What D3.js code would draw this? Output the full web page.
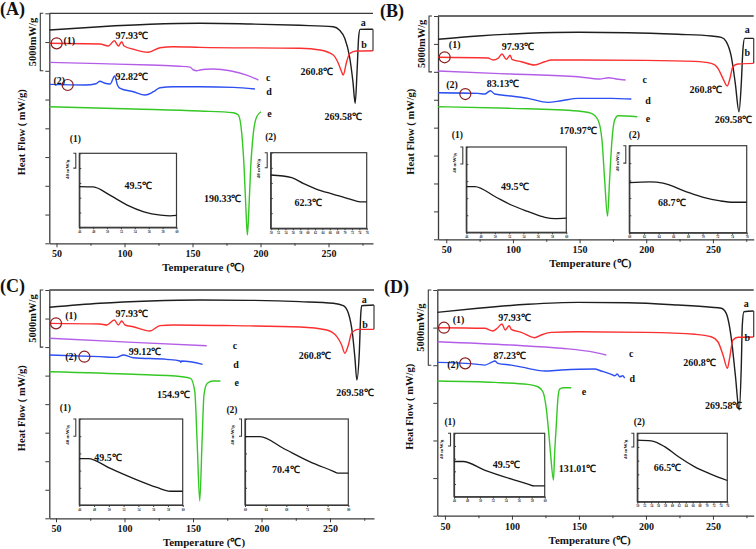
<!DOCTYPE html>
<html><head><meta charset="utf-8">
<script src="https://cdn.jsdelivr.net/npm/d3@7"></script>
<style>
body{margin:0;background:#fff}
svg{display:block}
text{font-family:"Liberation Serif","Times New Roman",serif;font-weight:bold;fill:#111}
</style>
</head><body>
<svg id="chart" width="756" height="549"></svg>
<script>
// ---------- DATA (temperature °C, heat flow mW/g) ----------
const xTickLabels = [50, 100, 150, 200, 250];
const curveNames = ["a", "b", "c", "d", "e"];

// Panel A
const A_a = [[44.8,-1450],[82,-1165],[118.8,-957],[155.5,-870],[192.3,-930],[229,-1045],[253.5,-1165],[258,-1450],[262,-2200],[265.5,-3800],[268,-6000],[269.58,-7830],[271,-5000],[272.2,-2000],[273.2,-1400],[282.6,-1390]];
const A_b = [[44.8,-2610],[82,-2670],[88.1,-2845],[92.6,-2385],[95.5,-2845],[97.93,-2470],[99.7,-2845],[106.5,-3130],[117.5,-3390],[126.1,-2990],[135.9,-2905],[155.5,-2960],[229,-3045],[243.7,-3190],[253.5,-3630],[257.2,-4350],[259.6,-5080],[260.8,-5370],[263.3,-4210],[265.7,-3480],[270.6,-3280],[282.6,-3250]];
const A_c = [[44.8,-4265],[82,-4380],[118.8,-4500],[140,-4600],[148.2,-4680],[150.7,-4930],[153.1,-4995],[155.5,-4930],[160,-4860],[165.3,-4845],[177.6,-4995],[189.8,-5370],[198.4,-5800]];
const A_d = [[44.8,-6180],[71.2,-6235],[79,-6130],[82,-5915],[85,-6060],[89.4,-6150],[92.82,-5455],[94.8,-6235],[96.8,-6525],[106.5,-6820],[115.1,-7110],[121.3,-6820],[126.1,-6470],[135.9,-6385],[155.5,-6385],[180,-6440],[195.9,-6585]];
const A_e = [[44.8,-8125],[106.5,-8325],[155.5,-8500],[180,-8650],[183.7,-8850],[186.2,-10440],[187.9,-13345],[189.4,-17400],[190.33,-19290],[191.3,-17400],[192.8,-13345],[194.7,-10440],[197.2,-9000],[200.4,-8560]];
const A_notes = [["97.93℃",105.3,-1890],["92.82℃",105.3,-5455],["260.8℃",241.3,-5080],["269.58℃",260.9,-8990],["190.33℃",172.2,-16090]];
const A_tags = [["a",275.6,-815],["b",276.1,-2755],["c",205.7,-5565],["d",206.3,-6820],["e",206.5,-8755],["(1)",59.4,-2385],["(2)",52.1,-5885]];
const A_circles = [[50.1,-2610],[58.2,-6235]];
const A_in1 = [[46,-90],[48,-91],[50.4,-113],[52.9,-140],[55.3,-158],[57.7,-167],[59.1,-169],[60,-168]];
const A_in2 = [[50,-59],[55.7,-66],[58.8,-81],[62.5,-97],[67,-110],[71.5,-123],[74.2,-130],[76,-130]];

// Panel B
const B_a = [[43.9,-2090],[73.8,-1790],[111.3,-1550],[148.8,-1460],[186.3,-1495],[223.8,-1640],[248.8,-1790],[256.3,-1910],[260,-2300],[263.8,-3645],[266.8,-6030],[269.58,-8575],[271.3,-6030],[272.5,-3045],[273.8,-2000],[280.5,-2000]];
const B_b = [[43.9,-3700],[81.3,-3760],[85,-3940],[88.8,-3790],[91.8,-3405],[95,-3880],[97.93,-3520],[99.3,-3880],[106.3,-4095],[116.3,-4390],[123.8,-4095],[128.8,-3940],[148.8,-3940],[198.8,-3970],[236.3,-4060],[248.8,-4240],[253.8,-4685],[257.5,-5580],[260.8,-6270],[262.5,-5735],[265,-4540],[268.8,-4300],[280.5,-4240]];
const B_c = [[43.9,-4930],[98.8,-5200],[148.8,-5440],[165,-5645],[171.8,-5525],[177.6,-5645],[184.5,-5735]];
const B_d = [[43.9,-6870],[73.8,-6930],[78.8,-6990],[83.13,-6690],[86.3,-6990],[98.8,-7170],[111.3,-7375],[126.3,-7735],[136.3,-7585],[148.8,-7375],[173.8,-7375],[188.8,-7435]];
const B_e = [[43.9,-8125],[98.8,-8270],[148.8,-8510],[158.8,-8720],[163.8,-9320],[166.8,-11110],[168.8,-14690],[170.97,-17920],[172.5,-14690],[174.3,-11110],[176.3,-9320],[178.8,-8930],[193.3,-9020]];
const B_notes = [["97.93℃",103.8,-2690],["83.13℃",92.5,-6030],["260.8℃",244.6,-6570],["269.58℃",265.5,-9230],["170.97℃",148.8,-10300]];
const B_tags = [["a",275.8,-1190],["b",275.8,-3290],["c",198.8,-5645],["d",201.3,-7525],["e",201.3,-9165],["(1)",56.3,-2535],["(2)",54.3,-6120]];
const B_circles = [[48.8,-3700],[64.3,-6990]];
const B_in1 = [[46,-93],[47.2,-93],[50,-116],[52.3,-136],[54.6,-151],[57,-165],[58.4,-168],[60,-167]];
const B_in2 = [[60,-85],[62.8,-83],[64.6,-86],[67.8,-106],[70.1,-119],[72.4,-127],[74.2,-130],[76,-130]];

// Panel C
const C_a = [[45.2,-1515],[82.1,-1165],[118.6,-965],[155.1,-875],[191.6,-905],[228.1,-1020],[252.4,-1165],[259.7,-1375],[263.4,-2045],[266.5,-3940],[268.2,-5985],[269.58,-7885],[271.4,-5400],[272.4,-2190],[273.1,-1375],[282,-1315]];
const C_b = [[45.2,-2920],[82.1,-2980],[87,-3065],[92.6,-2630],[95.5,-3065],[97.93,-2715],[100.4,-3065],[106.4,-3215],[118.6,-3590],[125.9,-3125],[135.6,-3065],[179.4,-3125],[228.1,-3240],[247.6,-3505],[255,-4090],[258.5,-4820],[260.8,-5545],[263.4,-4820],[265.7,-3795],[270.6,-3445],[282,-3445]];
const C_c = [[45.2,-4230],[106.4,-4585],[160,-4880]];
const C_d = [[45.2,-5695],[82.1,-5840],[94.3,-5900],[99.12,-5695],[106.4,-5930],[130.8,-6075],[140.5,-6220],[141.1,-6335],[141.7,-6220],[157,-6510]];
const C_e = [[45.2,-7155],[106.4,-7385],[142,-7595],[148.2,-7735],[151.3,-8910],[153,-13290],[154.9,-18485],[156.6,-13290],[158,-9200],[160.4,-8175],[164.8,-7970],[170,-7970]];
const C_notes = [["97.93℃",105.2,-2040],["99.12℃",115,-5345],["260.8℃",239,-5780],["269.58℃",268.2,-8960],["154.9℃",135.6,-9140]];
const C_tags = [["a",275,-790],["b",275.5,-3005],["c",180.7,-4880],["d",181.4,-6510],["e",181.9,-8085],["(1)",61,-2250],["(2)",61,-5845]];
const C_circles = [[50,-2920],[70.7,-5845]];
const C_in1 = [[46,-92],[47.2,-92],[50.2,-115],[53.3,-138],[56.5,-159],[58.3,-168],[60,-168]];
const C_in2 = [[60,-41],[62.9,-41],[67.4,-68],[72.5,-99],[77,-121],[78,-126],[80,-126]];

// Panel D
const D_a = [[44.4,-1485],[74.6,-1215],[111.9,-950],[149.3,-820],[186.6,-845],[223.9,-1000],[248.7,-1150],[256.2,-1215],[259.9,-1550],[263.7,-3210],[266.7,-5650],[269.58,-7980],[271.1,-5205],[271.9,-2330],[273.1,-1445],[280.3,-1395]];
const D_b = [[44.4,-2505],[79.6,-2545],[85.8,-2725],[89,-2545],[92.5,-2260],[95,-2660],[97.93,-2375],[99.5,-2615],[107,-2815],[116.9,-3170],[121.9,-2990],[129.3,-2815],[149.3,-2775],[199.6,-2815],[236.9,-2945],[248.7,-3105],[253.7,-3440],[257.5,-4320],[260.8,-5205],[262.4,-4540],[264.9,-3325],[268.7,-3145],[280.3,-3125]];
const D_c = [[44.4,-3440],[99.5,-3660],[136.8,-3875],[161.7,-4145],[170.4,-4320]];
const D_d = [[44.4,-4810],[74.6,-4940],[79.6,-4990],[84.6,-4810],[87.23,-4720],[89.6,-4875],[99.5,-4990],[111.9,-5205],[124.4,-5385],[136.8,-5320],[161.7,-5255],[166.6,-5385],[174.1,-5605],[176.6,-5700],[178.6,-5585],[180.4,-5765],[182.8,-5700],[184.1,-5870]];
const D_e = [[44.4,-6050],[87.1,-6140],[111.9,-6270],[119.4,-6430],[123.1,-6765],[125.6,-7865],[127.4,-9425],[128.9,-10975],[131.01,-12635],[131.8,-10975],[133.1,-8980],[134.3,-7200],[135.6,-6585],[138.1,-6495],[144.3,-6495]];
const D_notes = [["97.93℃",102,-1840],["87.23℃",98.4,-4370],["260.8℃",240,-4810],["269.58℃",258,-7695],["131.01℃",149,-11855]];
const D_tags = [["a",274.9,-885],["b",275.6,-3170],["c",189,-4210],["d",189.8,-5870],["e",153.7,-6715],["(1)",60.2,-1950],["(2)",56,-4940]];
const D_circles = [[49.3,-2505],[65.1,-4875]];
const D_in1 = [[46,-89],[47.4,-89],[50.7,-116],[54.8,-144],[57.4,-160],[58.4,-166],[60,-166]];
const D_in2 = [[50,-20],[54,-22],[57.9,-39],[61.8,-68],[66.6,-98],[71.4,-120],[76,-138]];

// inset tick labels
const inTicks1 = [46,48,50,52,54,56,58,60];
const inTicks2 = [50,52,54,56,58,60,62,64,66,68,70,72,74,76];
const inTicksB2 = [60,62,64,66,68,70,72,74,76];
const inTicksC2 = [60,64,68,72,76,80];

const colors = {a:"#1e1e1e", b:"#fb2f2f", c:"#b45ee8", d:"#2d4ff0", e:"#35c825"};

// ---------- LAYOUT ----------
const panels = [
 {letter:"(A)", letterPos:[0,15], box:[49.3,13.3,373,243.3], xDom:[44.7,282.7], yDom:[-20000,0],
  curves:{a:A_a,b:A_b,c:A_c,d:A_d,e:A_e}, notes:A_notes, tags:A_tags, circles:A_circles,
  insets:[
   {box:[79.3,153.3,176.5,227.3], xDom:[46,60], data:A_in1, ticks:inTicks1, note:["49.5℃",54.5,-86], tag:"(1)", tagOff:[-4,-15]},
   {box:[270.7,152.7,366.7,228.3], xDom:[50,76], data:A_in2, ticks:inTicks2, note:["62.3℃",60.2,-132], tag:"(2)", tagOff:[0,-16]}]},
 {letter:"(B)", letterPos:[380,17], box:[438,16,753.7,239.3], xDom:[43.8,280.6], yDom:[-20000,0],
  curves:{a:B_a,b:B_b,c:B_c,d:B_d,e:B_e}, notes:B_notes, tags:B_tags, circles:B_circles,
  insets:[
   {box:[466.3,147,566.3,232.3], xDom:[46,60], data:B_in1, ticks:inTicks1, note:["49.5℃",52.8,-93], tag:"(1)", tagOff:[-9,-12]},
   {box:[629.3,145.7,746.7,232.7], xDom:[60,76], data:B_in2, ticks:inTicksB2, note:["68.7℃",65.8,-131], tag:"(2)", tagOff:[5,-11]}]},
 {letter:"(C)", letterPos:[0,292], box:[49.3,290,374,518.3], xDom:[45.1,282.1], yDom:[-20000,0],
  curves:{a:C_a,b:C_b,c:C_c,d:C_d,e:C_e}, notes:C_notes, tags:C_tags, circles:C_circles,
  insets:[
   {box:[79.3,419,182.7,505], xDom:[46,60], data:C_in1, ticks:inTicks1, note:["49.5℃",49.9,-90], tag:"(1)", tagOff:[-14,-11]},
   {box:[245,419,348.3,505], xDom:[60,80], data:C_in2, ticks:inTicksC2, note:["70.4℃",67.9,-117], tag:"(2)", tagOff:[-13,-9]}]},
 {letter:"(D)", letterPos:[384,293], box:[437.3,290,753.7,515.7], xDom:[44.3,280.4], yDom:[-15000,0],
  curves:{a:D_a,b:D_b,c:D_c,d:D_d,e:D_e}, notes:D_notes, tags:D_tags, circles:D_circles,
  insets:[
   {box:[454,433.3,544.7,496.7], xDom:[46,60], data:D_in1, ticks:inTicks1, note:["49.5℃",54.1,-98], tag:"(1)", tagOff:[-4,-12]},
   {box:[637.3,433.3,727.3,501.7], xDom:[50,76], data:D_in2, ticks:inTicks2, note:["66.5℃",58.7,-100], tag:"(2)", tagOff:[2,-12]}]}
];

const svg = d3.select("#chart");
const AX = "#3a3a3a";

function styleAxis(sel, fs){
  sel.attr("font-family", null).attr("font-size", null);
  sel.selectAll("path.domain").attr("stroke", AX).attr("stroke-width", 1.3);
  sel.selectAll(".tick line").attr("stroke", AX).attr("stroke-width", 1);
  sel.selectAll(".tick text").style("font-size", fs + "px").attr("fill", "#111");
}

panels.forEach(p => {
  const [L, T, R, B] = p.box;
  const x = d3.scaleLinear().domain(p.xDom).range([L, R]);
  const y = d3.scaleLinear().domain(p.yDom).range([B, T]);
  const g = svg.append("g");

  // top border
  g.append("line").attr("x1", L).attr("x2", R).attr("y1", T).attr("y2", T)
    .attr("stroke", AX).attr("stroke-width", 1.3);

  // x axis
  const xt = d3.range(50, p.xDom[1], 25);
  const xa = g.append("g").attr("transform", `translate(0,${B})`)
    .call(d3.axisBottom(x).tickValues(xt).tickSize(4).tickSizeOuter(0).tickPadding(3)
      .tickFormat(d => xTickLabels.includes(d) ? d : ""));
  styleAxis(xa, 10);
  xa.selectAll(".tick").filter(d => !xTickLabels.includes(d)).select("line").attr("y2", 2.5);

  // y axis
  const yt = d3.range(p.yDom[0], p.yDom[1] + 1, 2500);
  const ya = g.append("g").attr("transform", `translate(${L},0)`)
    .call(d3.axisLeft(y).tickValues(yt).tickSize(4).tickSizeOuter(0).tickFormat(""));
  styleAxis(ya, 10);

  // axis titles
  g.append("text").attr("x", x(158)).attr("y", B + 24).attr("dy", "0.35em")
    .attr("text-anchor", "middle").style("font-size", "11px").text("Temperature (℃)");
  g.append("text").attr("transform", `translate(${L - 27.5},${(T + B) / 2 + 4}) rotate(-90)`)
    .attr("text-anchor", "middle").attr("dy", "0.35em").style("font-size", "10.5px").text("Heat Flow ( mW/g)");

  // 5000 mW/g scale bracket
  const bx = L - 9, by0 = y(0), by1 = y(-5000);
  g.append("path").attr("d", `M${bx + 3},${by0}H${bx}V${by1}H${bx + 3}`)
    .attr("fill", "none").attr("stroke", AX).attr("stroke-width", 1.1);
  g.append("text").attr("transform", `translate(${L - 16.5},${(by0 + by1) / 2}) rotate(-90)`)
    .attr("text-anchor", "middle").attr("dy", "0.35em").style("font-size", "10.5px").text("5000mW/g");

  // panel letter
  g.append("text").attr("x", p.letterPos[0]).attr("y", p.letterPos[1])
    .style("font-size", "18px").text(p.letter);

  // curves
  const line = d3.line().x(d => x(d[0])).y(d => y(d[1])).curve(d3.curveMonotoneX);
  curveNames.forEach(k => {
    g.append("path").datum(p.curves[k]).attr("d", line)
      .attr("fill", "none").attr("stroke", colors[k]).attr("stroke-width", 1.4);
  });

  // right bracket between a and b ends
  const aEnd = p.curves.a[p.curves.a.length - 1], bEnd = p.curves.b[p.curves.b.length - 1];
  g.append("line").attr("x1", R).attr("x2", R).attr("y1", y(aEnd[1])).attr("y2", y(bEnd[1]))
    .attr("stroke", AX).attr("stroke-width", 1.2);

  // circles
  g.selectAll("circle.mk").data(p.circles).join("circle").attr("class", "mk")
    .attr("cx", d => x(d[0])).attr("cy", d => y(d[1])).attr("r", 5.5)
    .attr("fill", "none").attr("stroke", "#8a1d1d").attr("stroke-width", 1.2);

  // annotations
  g.selectAll("text.note").data(p.notes).join("text").attr("class", "note")
    .attr("x", d => x(d[1])).attr("y", d => y(d[2])).attr("dy", "0.35em")
    .attr("text-anchor", "middle").style("font-size", "10px").text(d => d[0]);
  g.selectAll("text.tag").data(p.tags).join("text").attr("class", "tag")
    .attr("x", d => x(d[1])).attr("y", d => y(d[2])).attr("dy", "0.35em")
    .attr("text-anchor", "middle").style("font-size", "10px").text(d => d[0]);

  // insets
  p.insets.forEach(ins => {
    const [l, t, r, b] = ins.box;
    const ix = d3.scaleLinear().domain(ins.xDom).range([l, r]);
    const iy = d3.scaleLinear().domain([-200, 0]).range([b, t]);
    const ig = g.append("g");
    ig.append("rect").attr("x", l).attr("y", t).attr("width", r - l).attr("height", b - t)
      .attr("fill", "#fff").attr("stroke", AX).attr("stroke-width", 1.2);
    const ixa = ig.append("g").attr("transform", `translate(0,${b})`)
      .call(d3.axisBottom(ix).tickValues(ins.ticks).tickSize(2).tickSizeOuter(0).tickPadding(1.5));
    styleAxis(ixa, 3);
    ixa.selectAll("path.domain").attr("stroke-width", 1.2);
    const iya = ig.append("g").attr("transform", `translate(${l},0)`)
      .call(d3.axisLeft(iy).tickValues(d3.range(-200, 1, 40)).tickSize(-2).tickSizeOuter(0).tickFormat(""));
    styleAxis(iya, 3);
    iya.selectAll("path.domain").attr("stroke-width", 1.2);
    ig.append("path").datum(ins.data)
      .attr("d", d3.line().x(d => ix(d[0])).y(d => iy(d[1])).curve(d3.curveMonotoneX))
      .attr("fill", "none").attr("stroke", "#1a1a1a").attr("stroke-width", 1.3);
    // 40 mW/g bracket
    const qx = l - 3.5;
    ig.append("path").attr("d", `M${qx - 2.5},${iy(0)}H${qx}V${iy(-40)}H${qx - 2.5}`)
      .attr("fill", "none").attr("stroke", AX).attr("stroke-width", 1.1);
    ig.append("text").attr("transform", `translate(${l - 12.5},${t + 16}) rotate(-90)`)
      .attr("text-anchor", "middle").attr("dy", "0.35em").style("font-size", "5px").text("40 mW/g");
    ig.append("text").attr("x", ix(ins.note[1])).attr("y", iy(ins.note[2])).attr("dy", "0.35em")
      .attr("text-anchor", "middle").style("font-size", "10px").text(ins.note[0]);
    ig.append("text").attr("x", l + ins.tagOff[0]).attr("y", t + ins.tagOff[1]).attr("dy", "0.35em")
      .attr("text-anchor", "middle").style("font-size", "9.5px").text(ins.tag);
  });
});
</script>
</body></html>
